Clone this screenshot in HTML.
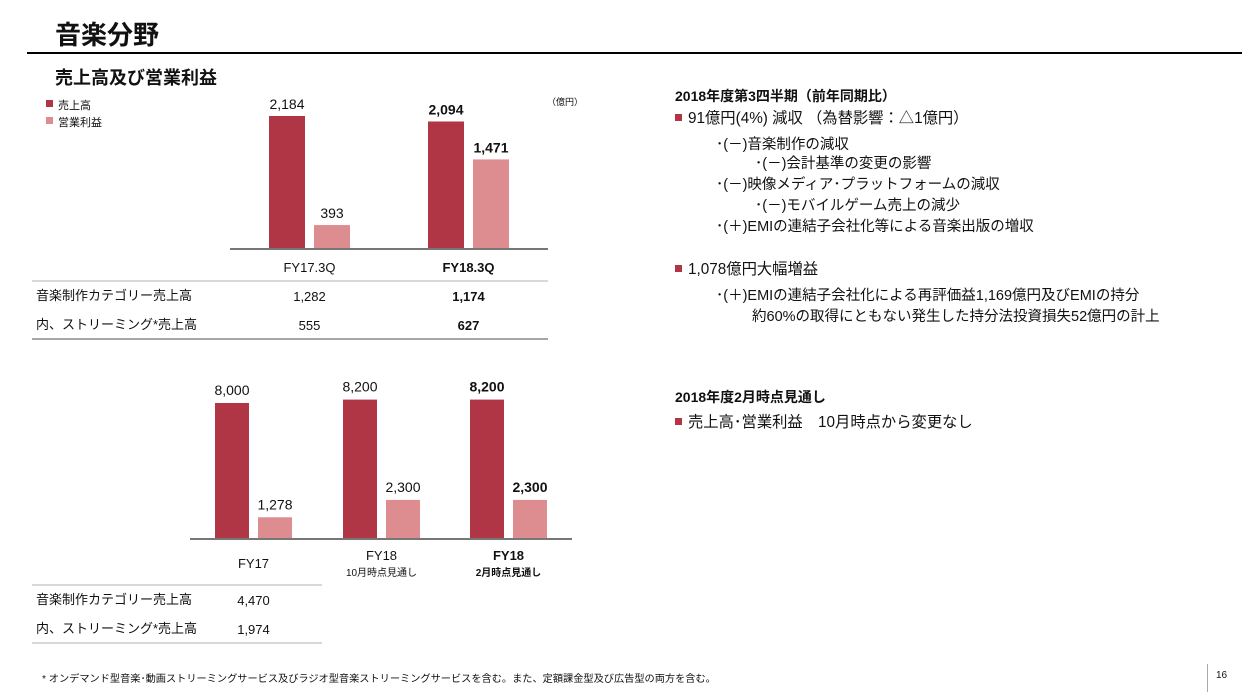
<!DOCTYPE html>
<html><head><meta charset="utf-8">
<style>
body{margin:0;width:1242px;height:694px;background:#fff;position:relative;overflow:hidden;font-family:"Liberation Sans","Noto Sans CJK JP",sans-serif;color:#111}
.a{position:absolute;white-space:nowrap;line-height:1}
.b{font-weight:bold}
.sq{display:inline-block;width:7px;height:7px;background:#b03545;margin-right:6px;vertical-align:2px}
svg{position:absolute;left:0;top:0}
</style></head><body>
<div class="a b" style="left:55px;top:22px;font-size:26px">音楽分野</div>
<div class="a" style="left:27px;top:52px;width:1215px;height:2px;background:#000"></div>
<div class="a b" style="left:55px;top:69px;font-size:18px">売上高及び営業利益</div>
<div class="a" style="left:46px;top:100px;font-size:11px"><span class="sq" style="margin-right:5px"></span>売上高</div>
<div class="a" style="left:46px;top:117px;font-size:11px"><span class="sq" style="background:#dd8c8f;margin-right:5px"></span>営業利益</div>
<div class="a" style="left:547px;top:98px;font-size:9px">（億円）</div>

<svg id="chart" width="1242" height="694"></svg>

<div class="a" style="left:36px;top:289px;font-size:13px">音楽制作カテゴリー売上高</div>
<div class="a" style="left:36px;top:318px;font-size:13px">内、ストリーミング*売上高</div>
<div class="a" style="left:36px;top:593px;font-size:13px">音楽制作カテゴリー売上高</div>
<div class="a" style="left:36px;top:622px;font-size:13px">内、ストリーミング*売上高</div>

<div>
<div class="a b" style="left:675px;top:89px;font-size:14px">2018年度第3四半期（前年同期比）</div>
<div class="a" style="left:675px;top:111px;font-size:15.3px"><span class="sq"></span>91億円(4%) 減収 （為替影響：△1億円）</div>
<div class="a" style="left:716px;top:138px;font-size:14.5px">･(－)音楽制作の減収</div>
<div class="a" style="left:755px;top:157px;font-size:14.5px">･(－)会計基準の変更の影響</div>
<div class="a" style="left:716px;top:178px;font-size:14.5px">･(－)映像メディア･プラットフォームの減収</div>
<div class="a" style="left:755px;top:199px;font-size:14.5px">･(－)モバイルゲーム売上の減少</div>
<div class="a" style="left:716px;top:220px;font-size:14.5px">･(＋)EMIの連結子会社化等による音楽出版の増収</div>
<div class="a" style="left:675px;top:262px;font-size:15.3px"><span class="sq"></span>1,078億円大幅増益</div>
<div class="a" style="left:716px;top:289px;font-size:14.5px">･(＋)EMIの連結子会社化による再評価益1,169億円及びEMIの持分</div>
<div class="a" style="left:752px;top:310px;font-size:14.5px">約60%の取得にともない発生した持分法投資損失52億円の計上</div>
<div class="a b" style="left:675px;top:390px;font-size:14px">2018年度2月時点見通し</div>
<div class="a" style="left:675px;top:415px;font-size:15.3px"><span class="sq"></span>売上高･営業利益　10月時点から変更なし</div>
</div>

<div class="a" style="left:42px;top:675px;font-size:10.2px">* オンデマンド型音楽･動画ストリーミングサービス及びラジオ型音楽ストリーミングサービスを含む。また、定額課金型及び広告型の両方を含む。</div>
<div class="a" style="left:1207px;top:664px;width:1px;height:28px;background:#aaa"></div>
<div class="a" style="left:1216px;top:671px;font-size:10px">16</div>

<script>
const q3Categories = ["FY17.3Q","FY18.3Q"];
const q3Revenue = [2184, 2094];
const q3Profit = [393, 1471];
const q3Bold = [false, true];
const q3Row1 = ["1,282","1,174"];
const q3Row2 = ["555","627"];

const fyCategories = ["FY17","FY18","FY18"];
const fySubLabels = ["","10月時点見通し","2月時点見通し"];
const fyRevenue = [8000, 8200, 8200];
const fyProfit = [1278, 2300, 2300];
const fyBold = [false, false, true];
const fyRow1 = ["4,470"];
const fyRow2 = ["1,974"];

const svg = document.getElementById('chart');
const NS = 'http://www.w3.org/2000/svg';
function mk(tag, attrs){const e=document.createElementNS(NS,tag);for(const k in attrs)e.setAttribute(k,attrs[k]);svg.appendChild(e);return e;}
function txt(x,y,s,size,bold){const t=mk('text',{x:x,y:y,'font-size':size,'text-anchor':'middle','font-weight':bold?'bold':'normal',fill:'#111'});t.textContent=s;return t;}
function fmt(v){return v.toLocaleString('en-US');}

// Chart 1
const c1 = {base:249, scale:133/2184, groupX:[269,428], bw:36, gap:9};
function y1(v){return c1.base - v*c1.scale;}
q3Categories.forEach((c,i)=>{
  const x0=c1.groupX[i], x1=x0+c1.bw+c1.gap;
  const r=mk('rect',{x:x0,y:y1(q3Revenue[i]),width:c1.bw,height:c1.base-y1(q3Revenue[i]),fill:'#b03545'});
  
  
  const p=mk('rect',{x:x1,y:y1(q3Profit[i]),width:c1.bw,height:c1.base-y1(q3Profit[i]),fill:'#dd8c8f'});
  
  
  const l1=txt(x0+c1.bw/2,y1(q3Revenue[i])-7,fmt(q3Revenue[i]),14,q3Bold[i]);
  
  
  const l2=txt(x1+c1.bw/2,y1(q3Profit[i])-7,fmt(q3Profit[i]),14,q3Bold[i]);
  
  
  const cx=x0+(c1.bw*2+c1.gap)/2;
  const cl=txt(cx,272,c,13,q3Bold[i]);
  
  
  const t1=txt(cx,301,q3Row1[i],13,q3Bold[i]);
  
  
  const t2=txt(cx,330,q3Row2[i],13,q3Bold[i]);
  
  
});
const ax1=mk('line',{x1:230,y1:249,x2:548,y2:249,stroke:'#777','stroke-width':2});


mk('line',{x1:32,y1:281,x2:548,y2:281,stroke:'#ccc','stroke-width':1.5});
mk('line',{x1:32,y1:339,x2:548,y2:339,stroke:'#888','stroke-width':1.5});

// Chart 2
const c2 = {base:539, scale:136/8000, groupX:[215,343,470], bw:34, gap:9};
function y2(v){return c2.base - v*c2.scale;}
fyCategories.forEach((c,i)=>{
  const x0=c2.groupX[i], x1=x0+c2.bw+c2.gap;
  const r=mk('rect',{x:x0,y:y2(fyRevenue[i]),width:c2.bw,height:c2.base-y2(fyRevenue[i]),fill:'#b03545'});
  
  
  const p=mk('rect',{x:x1,y:y2(fyProfit[i]),width:c2.bw,height:c2.base-y2(fyProfit[i]),fill:'#dd8c8f'});
  
  
  const l1=txt(x0+c2.bw/2,y2(fyRevenue[i])-8,fmt(fyRevenue[i]),14,fyBold[i]);
  
  
  const l2=txt(x1+c2.bw/2,y2(fyProfit[i])-8,fmt(fyProfit[i]),14,fyBold[i]);
  
  
  const cx=x0+(c2.bw*2+c2.gap)/2;
  const cl=txt(cx,fySubLabels[i]?560:568,c,13,fyBold[i]);
  
  
  if(fySubLabels[i]){
    const sl=txt(cx,576,fySubLabels[i],10,fyBold[i]);
    
    
  }
  if(i<fyRow1.length){
    const t1=txt(cx,605,fyRow1[i],13,false);
    
    
    const t2=txt(cx,634,fyRow2[i],13,false);
    
    
  }
});
const ax2=mk('line',{x1:190,y1:539,x2:572,y2:539,stroke:'#777','stroke-width':2});


mk('line',{x1:32,y1:585,x2:322,y2:585,stroke:'#ccc','stroke-width':1.5});
mk('line',{x1:32,y1:643,x2:322,y2:643,stroke:'#ccc','stroke-width':1.5});
</script>
</body></html>
